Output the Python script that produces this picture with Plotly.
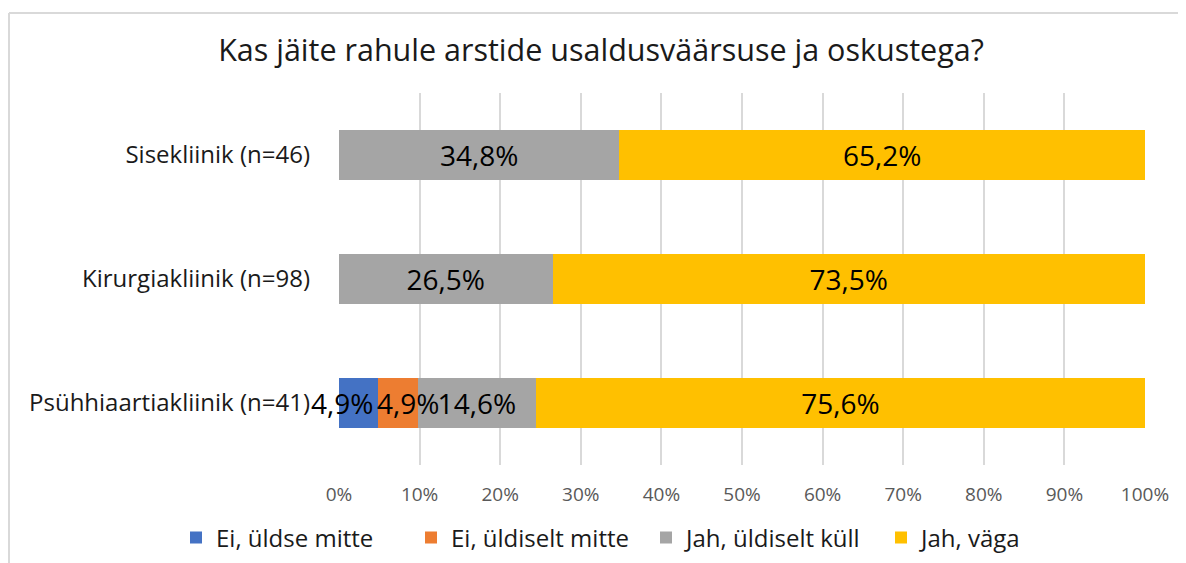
import plotly.graph_objects as go

categories = ["Sisekliinik (n=46)", "Kirurgiakliinik (n=98)", "Psühhiaartiakliinik (n=41)"]
series_names = ["Ei, üldse mitte", "Ei, üldiselt mitte", "Jah, üldiselt küll", "Jah, väga"]
ei_uldse = [0.0, 0.0, 4.9]
ei_uldiselt = [0.0, 0.0, 4.9]
jah_uldiselt = [34.8, 26.5, 14.6]
jah_vaga = [65.2, 73.5, 75.6]
colors = ["#4472C4", "#ED7D31", "#A5A5A5", "#FFC000"]
tick_vals = [0, 10, 20, 30, 40, 50, 60, 70, 80, 90, 100]
tick_text = ["0%", "10%", "20%", "30%", "40%", "50%", "60%", "70%", "80%", "90%", "100%"]

# page has an 8px body margin: build the figure in coordinates shifted by 8px
OFF = 8
W, H = 1186 - OFF, 563 - OFF
ML, MR, MT, MB = 339 - OFF, 41, 93 - OFF, 98
FONT = "Open Sans"


def fmt(v):
    return ("%.1f" % v).replace(".", ",") + "%" if v > 0 else ""


series = [ei_uldse, ei_uldiselt, jah_uldiselt, jah_vaga]
small_shift = [-17, 10]  # label offsets for the narrow segments (style only)

fig = go.Figure()
for i, (name, vals, col) in enumerate(zip(series_names, series, colors)):
    texts = [fmt(v) for v in vals]
    if i < 2:
        texts = ["" for _ in vals]
    fig.add_trace(go.Bar(
        y=categories, x=vals, name=name, orientation="h",
        marker=dict(color=col, line=dict(width=0)),
        text=texts, textposition="inside", insidetextanchor="middle",
        constraintext="none",
        textfont=dict(family=FONT, size=28, color="#000000"),
        hoverinfo="skip",
    ))

annotations = []
for i in range(2):
    for j, v in enumerate(series[i]):
        if v <= 0:
            continue
        start = sum(series[k][j] for k in range(i))
        annotations.append(dict(
            x=start + v / 2, y=categories[j], xref="x", yref="y",
            text=fmt(v), showarrow=False, xshift=small_shift[i],
            font=dict(family=FONT, size=28, color="#000000"),
        ))

pw = W - ML - MR
ph = H - MT - MB
bx = (1 - ML) / pw
by = (H - MB - (13 - OFF)) / ph
shapes = [
    dict(type="line", xref="paper", yref="paper", x0=bx, x1=2, y0=by, y1=by,
         line=dict(color="#D9D9D9", width=2)),
    dict(type="line", xref="paper", yref="paper", x0=bx, x1=bx, y0=by, y1=-2,
         line=dict(color="#D9D9D9", width=2)),
]

fig.update_layout(
    width=W, height=H,
    margin=dict(l=ML, r=MR, t=MT, b=MB, pad=0, autoexpand=False),
    barmode="stack", bargap=0.6,
    plot_bgcolor="white", paper_bgcolor="white",
    separators=",.",
    title=dict(text="Kas jäite rahule arstide usaldusväärsuse ja oskustega?",
               x=(601 - OFF) / W, xanchor="center", y=1 - (50 - OFF) / H, yanchor="middle",
               font=dict(family=FONT, size=30.5, color="#1a1a1a")),
    xaxis=dict(range=[0, 100], tickvals=tick_vals, ticktext=tick_text,
               showgrid=True, gridcolor="#D9D9D9", gridwidth=2,
               zeroline=False, showline=False, ticks="", ticklen=0,
               ticklabelstandoff=16, automargin=False,
               tickfont=dict(family=FONT, size=19, color="#595959"),
               fixedrange=True),
    yaxis=dict(autorange="reversed", showgrid=False, zeroline=False, showline=False,
               ticks="", ticklabelstandoff=28, automargin=False,
               tickfont=dict(family=FONT, size=24, color="#1a1a1a"),
               fixedrange=True),
    legend=dict(orientation="h", x=(176 - OFF - ML) / pw, xanchor="left",
                y=(H - MB - (538 - OFF)) / ph, yanchor="middle",
                entrywidth=190, entrywidthmode="pixels",
                font=dict(family=FONT, size=24, color="#1a1a1a"),
                traceorder="normal", itemclick=False, bgcolor="rgba(0,0,0,0)"),
    annotations=annotations,
    shapes=shapes,
    showlegend=True,
)

fig.write_html("out.html", config={"displayModeBar": False})
